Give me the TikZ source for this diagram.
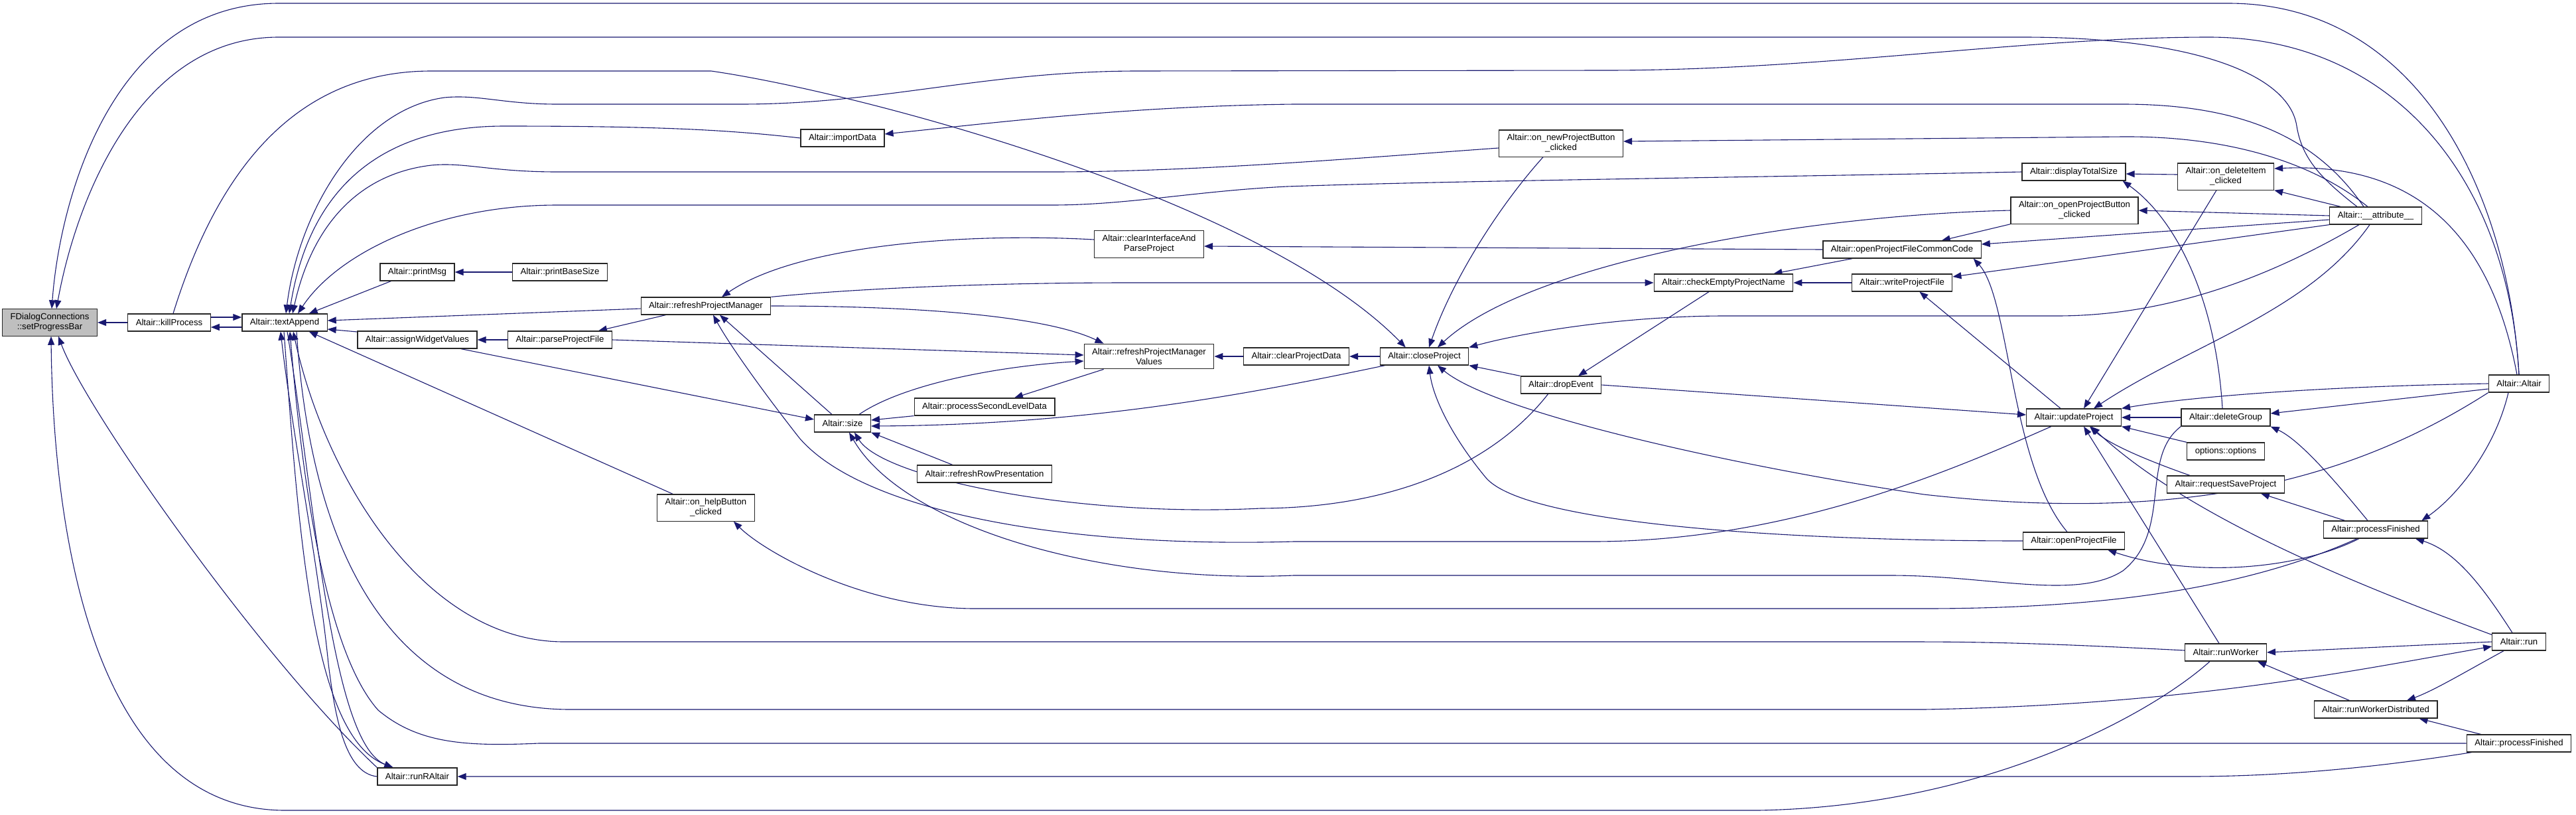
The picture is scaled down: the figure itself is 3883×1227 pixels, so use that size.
\documentclass[tikz,border=0pt]{standalone}
\usepackage{fontspec}
\setmainfont{Liberation Sans}
\usepackage{tikz}
\usetikzlibrary{arrows.meta,calc,backgrounds}
\definecolor{edgeblue}{HTML}{191970}
\tikzset{
  % Base styles
  graph base/.style={x=1pt, y=-1pt},
  % Function nodes
  fn/.style={rectangle, draw=black!85, line width=1.2pt, fill=white, align=center,
    font=\fontsize{13.2}{15}\selectfont, inner xsep=12pt, inner ysep=6.5pt, minimum height=26pt},
  fn root/.style={fn, fill=black!25},
  % Call edges
  call/.style={draw=edgeblue, line width=1.1pt, -{Triangle[length=13pt,width=10pt]}},
}

\begin{document}
\begin{tikzpicture}[graph base]
\useasboundingbox (0,0) rectangle (3883,1227);

% Left columns
\node[fn root] (spb) at (75,486) {FDialogConnections\\::setProgressBar};
\node[fn] (kill) at (255,486) {Altair::killProcess};
\node[fn] (txtapp) at (429,486) {Altair::textAppend};
\node[fn] (pmsg) at (629,410) {Altair::printMsg};
\node[fn] (pbsize) at (844,410) {Altair::printBaseSize};
\node[fn] (awv) at (629,512) {Altair::assignWidgetValues};
\node[fn] (ppf) at (844,512) {Altair::parseProjectFile};
\node[fn] (rra) at (629,1170) {Altair::runRAltair};
\node[fn] (rpm) at (1064,461) {Altair::refreshProjectManager};
\node[fn] (helpbtn) at (1064,765) {Altair::on\_helpButton\\\_clicked};
\node[fn] (impdata) at (1270,208) {Altair::importData};
\node[fn] (asize) at (1270,638) {Altair::size};
\node[fn] (psld) at (1484,613) {Altair::processSecondLevelData};
\node[fn] (rrp) at (1484,714) {Altair::refreshRowPresentation};
\node[fn] (cip) at (1732,368) {Altair::clearInterfaceAnd\\ParseProject};
\node[fn] (rpmv) at (1732,537) {Altair::refreshProjectManager\\Values};
\node[fn] (cpd) at (1954,537) {Altair::clearProjectData};

% Middle columns
\node[fn] (closep) at (2147,537) {Altair::closeProject};
\node[fn] (newbtn) at (2353,216) {Altair::on\_newProjectButton\\\_clicked};
\node[fn] (dropev) at (2353,580) {Altair::dropEvent};
\node[fn] (cepn) at (2598,426) {Altair::checkEmptyProjectName};
\node[fn] (opfcc) at (2867,376) {Altair::openProjectFileCommonCode};
\node[fn] (wpf) at (2867,426) {Altair::writeProjectFile};

% Right columns
\node[fn] (dts) at (3126,259) {Altair::displayTotalSize};
\node[fn] (openbtn) at (3127,317) {Altair::on\_openProjectButton\\\_clicked};
\node[fn] (updp) at (3126,629) {Altair::updateProject};
\node[fn] (opf) at (3126,815) {Altair::openProjectFile};
\node[fn] (delitem) at (3355,266) {Altair::on\_deleteItem\\\_clicked};
\node[fn] (delgrp) at (3355,629) {Altair::deleteGroup};
\node[fn] (opts) at (3355,680) {options::options};
\node[fn] (rsp) at (3355,730) {Altair::requestSaveProject};
\node[fn] (runw) at (3355,983) {Altair::runWorker};
\node[fn] (attr) at (3581,325) {Altair::\_\_attribute\_\_};
\node[fn] (pfin) at (3581,798) {Altair::processFinished};
\node[fn] (rwd) at (3581,1069) {Altair::runWorkerDistributed};
\node[fn] (altair) at (3797,578) {Altair::Altair};
\node[fn] (runn) at (3797,967) {Altair::run};
\node[fn] (pfin2) at (3797,1120) {Altair::processFinished};

\begin{scope}[on background layer]
% Into setProgressBar
\draw[call] (kill.west) -- (spb.east);
\draw[call] (altair.north) .. controls (3780,280) and (3640,5) .. (3359,5) -- (420,5) .. controls (170,5) and (90,300) .. ($(spb.north)+(3,0)$);
\draw[call] ($(attr.north)+(-28,0)$) .. controls (3500,270) and (3470,240) .. (3462,190) .. controls (3450,110) and (3300,56) .. (3050,56) -- (420,56) .. controls (210,56) and (115,300) .. ($(spb.north)+(10,0)$);
\draw[call] ($(runw.south)+(-24,0)$) .. controls (3250,1070) and (3000,1215) .. (2650,1221) -- (430,1221) .. controls (140,1221) and (80,800) .. ($(spb.south)+(2,0)$);
\draw[call] (rra.north west) .. controls (400,1000) and (130,620) .. ($(spb.south)+(13,0)$);

% Around textAppend
\draw[call] ($(kill.east)+(0,-8)$) -- ($(txtapp.west)+(0,-8)$);
\draw[call] ($(txtapp.west)+(0,7)$) -- ($(kill.east)+(0,7)$);
\draw[call] (pbsize) -- (pmsg);
\draw[call] ($(pmsg.south west)+(17,0)$) -- ($(txtapp.north east)+(-28,0)$);
\draw[call] (ppf) -- (awv);
\draw[call] ($(awv.west)+(0,-12)$) -- ($(txtapp.east)+(0,10)$);
\draw[call] ($(rpm.west)+(0,4)$) -- ($(txtapp.east)+(0,-3)$);
\draw[call] ($(helpbtn.north west)+(24,0)$) -- ($(txtapp.south east)+(-28,0)$);
\draw[call] (impdata.west) .. controls (1100,196) and (1000,190) .. (760,190) .. controls (600,190) and (470,260) .. ($(txtapp.north)+(7,0)$);
\draw[call] ($(newbtn.west)+(0,7)$) .. controls (2050,238) and (1800,259) .. (1585,259) -- (840,259) .. controls (740,259) and (700,244) .. (650,249) .. controls (540,262) and (470,340) .. ($(txtapp.north)+(12,0)$);
\draw[call] (dts.west) .. controls (2600,268) and (2200,272) .. (1940,281) .. controls (1800,288) and (1700,309) .. (1585,309) -- (840,309) .. controls (660,309) and (510,380) .. ($(txtapp.north)+(20,0)$);
\draw[call] (altair.north) .. controls (3780,260) and (3600,56) .. (3330,56) .. controls (3050,56) and (2750,106) .. (2420,106) -- (1710,107) .. controls (1480,108) and (1330,157) .. (1116,157) -- (840,157) .. controls (760,157) and (720,142) .. (670,147) .. controls (540,165) and (450,320) .. ($(txtapp.north)+(2,0)$);
\draw[call] ($(runw.west)+(0,-3)$) .. controls (3100,970) and (3000,967) .. (2880,967) -- (850,967) .. controls (640,967) and (490,720) .. ($(txtapp.south)+(13,0)$);
\draw[call] ($(txtapp.south)+(18,0)$) .. controls (470,850) and (600,1069) .. (860,1069) -- (2900,1069) .. controls (3300,1062) and (3550,1010) .. ($(runn.west)+(0,7)$);
\draw[call] (pfin2.west) -- (812,1120) .. controls (700,1125) and (630,1120) .. (570,1070) .. controls (490,980) and (455,720) .. ($(txtapp.south)+(8,0)$);
\draw[call] ($(pfin2.south west)+(8,0)$) .. controls (3560,1160) and (3420,1170) .. (3300,1170) -- (rra.east);
\draw[call] (rra.west) .. controls (520,1165) and (505,1080) .. (495,1000) .. controls (480,850) and (440,650) .. ($(txtapp.south)+(-6,0)$);
\draw[call] ($(txtapp.south)+(-1,0)$) .. controls (450,800) and (470,1110) .. ($(rra.north west)+(24,0)$);
\draw[call] ($(txtapp.south)+(4,0)$) .. controls (475,760) and (500,1120) .. ($(rra.north west)+(24,0)$);

% refreshProjectManager and size
\draw[call] ($(rpm.south west)+(38,0)$) -- ($(ppf.north east)+(-21,0)$);
\draw[call] (ppf.east) -- ($(rpmv.west)+(0,-2)$);
\draw[call] ($(awv.south east)+(-25,0)$) -- ($(asize.west)+(0,-6)$);
\draw[call] (rpm.east) .. controls (1400,461) and (1580,478) .. ($(rpmv.north west)+(30,0)$);
\draw[call] (rpm.north east) .. controls (1300,434) and (1500,426) .. (1700,426) -- (cepn.west);
\draw[call] ($(cip.west)+(0,-7)$) .. controls (1450,350) and (1200,370) .. ($(rpm.north)+(24,0)$);
\draw[call] ($(asize.north west)+(27,0)$) -- ($(rpm.south)+(21,0)$);
\draw[call] ($(updp.south west)+(38,0)$) .. controls (2950,705) and (2700,816) .. (2400,816) -- (1950,816) .. controls (1600,826) and (1300,770) .. (1205,660) .. controls (1150,590) and (1100,520) .. ($(rpm.south)+(11,0)$);
\draw[call] ($(asize.north east)+(-18,0)$) .. controls (1360,580) and (1500,552) .. ($(rpmv.west)+(0,7)$);
\draw[call] ($(rpmv.south west)+(30,0)$) -- ($(psld.north)+(45,0)$);
\draw[call] (psld.south west) -- ($(asize.east)+(0,-5)$);
\draw[call] ($(rrp.north west)+(54,0)$) -- (asize.south east);
\draw[call] ($(closep.south west)+(8,0)$) .. controls (1900,590) and (1650,640) .. ($(asize.east)+(0,4)$);
\draw[call] ($(dropev.south west)+(42,0)$) .. controls (2250,700) and (2100,765) .. (1900,766) .. controls (1620,780) and (1330,720) .. ($(asize.south)+(18,0)$);
\draw[call] (delgrp.south west) .. controls (3225,690) and (3275,800) .. (3200,860) .. controls (3130,905) and (3000,867) .. (2850,867) -- (1950,867) .. controls (1650,880) and (1360,790) .. ($(asize.south)+(10,0)$);
\draw[call] (cpd.west) -- (rpmv.east);

% closeProject
\draw[call] (closep.west) -- (cpd.east);
\draw[call] ($(kill.north)+(6,0)$) .. controls (330,250) and (450,107) .. (650,107) -- (1072,107) .. controls (1300,140) and (1900,300) .. ($(closep.north west)+(39,0)$);
\draw[call] ($(newbtn.south)+(-27,0)$) .. controls (2260,310) and (2190,420) .. ($(closep.north)+(7,0)$);
\draw[call] (openbtn.west) .. controls (2700,325) and (2300,400) .. ($(closep.north)+(20,0)$);
\draw[call] ($(attr.south)+(-25,0)$) .. controls (3400,430) and (3250,476) .. (3100,476) -- (2600,476) .. controls (2450,476) and (2300,500) .. (closep.north east);
\draw[call] (dropev.north west) -- (closep.south east);
\draw[call] (opf.west) .. controls (2700,815) and (2300,790) .. (2240,720) .. controls (2190,660) and (2160,600) .. ($(closep.south)+(7,0)$);
\draw[call] (altair.south west) .. controls (3550,720) and (3300,790) .. (2900,745) .. controls (2600,700) and (2250,620) .. ($(closep.south)+(20,0)$);

% checkEmptyProjectName and project files
\draw[call] ($(cepn.south)+(-22,0)$) -- ($(dropev.north)+(26,0)$);
\draw[call] (dropev.east) -- ($(updp.west)+(0,-4)$);
\draw[call] (opfcc.west) -- ($(cip.east)+(0,3)$);
\draw[call] ($(opfcc.south west)+(45,0)$) -- ($(cepn.north east)+(-30,0)$);
\draw[call] (wpf.west) -- (cepn.east);
\draw[call] (openbtn.south west) -- ($(opfcc.north east)+(-60,0)$);
\draw[call] ($(attr.west)+(0,6)$) -- ($(opfcc.east)+(0,-8)$);
\draw[call] (attr.south west) -- ($(wpf.east)+(0,-9)$);
\draw[call] (attr.west) -- (openbtn.east);
\draw[call] ($(updp.north)+(-20,0)$) -- ($(wpf.south east)+(-50,0)$);
\draw[call] ($(opf.north)+(-10,0)$) .. controls (3030,700) and (3030,450) .. ($(opfcc.south east)+(-12,0)$);
\draw[call] ($(attr.north)+(-18,0)$) .. controls (3500,220) and (3400,157) .. (3200,157) -- (1950,157) .. controls (1700,160) and (1500,185) .. ($(impdata.east)+(0,-6)$);
\draw[call] ($(attr.north)+(-12,0)$) .. controls (3480,240) and (3350,205) .. (3200,206) -- ($(newbtn.east)+(0,-3)$);

% deleteItem, updateProject
\draw[call] ($(attr.north west)+(17,0)$) -- (delitem.south east);
\draw[call] ($(altair.north)+(-3,0)$) .. controls (3750,330) and (3620,245) .. ($(delitem.east)+(0,-12)$);
\draw[call] ($(delitem.west)+(0,-3)$) -- ($(dts.east)+(0,3)$);
\draw[call] ($(delitem.south)+(-14,0)$) -- ($(updp.north)+(15,0)$);
\draw[call] ($(attr.south)+(-9,0)$) .. controls (3480,470) and (3300,520) .. ($(updp.north)+(30,0)$);
\draw[call] (altair.west) .. controls (3500,582) and (3300,598) .. (updp.north east);
\draw[call] ($(altair.west)+(0,8)$) -- ($(delgrp.east)+(0,-6)$);
\draw[call] (delgrp.west) -- (updp.east);
\draw[call] (opts.north west) -- (updp.south east);
\draw[call] ($(rsp.north west)+(35,0)$) .. controls (3240,695) and (3180,670) .. ($(updp.south)+(24,0)$);
\draw[call] ($(runw.north)+(-10,0)$) -- ($(updp.south)+(15,0)$);
\draw[call] ($(runn.north west)+(0,3)$) .. controls (3550,880) and (3300,780) .. ($(updp.south)+(26,0)$);
\draw[call] ($(delgrp.north)+(-5,0)$) .. controls (3340,450) and (3280,330) .. ($(dts.south east)+(-5,0)$);

% processFinished and run
\draw[call] ($(pfin.north)+(-12,0)$) .. controls (3500,700) and (3460,660) .. (delgrp.south east);
\draw[call] ($(pfin.north west)+(33,0)$) -- ($(rsp.south east)+(-36,0)$);
\draw[call] ($(altair.south)+(-16,0)$) .. controls (3760,680) and (3700,750) .. ($(pfin.north east)+(-10,0)$);
\draw[call] ($(runn.north)+(-10,0)$) .. controls (3740,880) and (3700,830) .. ($(pfin.south)+(60,0)$);
\draw[call] ($(pfin.south)+(-25,0)$) .. controls (3460,860) and (3300,870) .. ($(opf.south east)+(-26,0)$);
\draw[call] ($(pfin.south)+(-28,0)$) .. controls (3400,880) and (3200,917) .. (2900,917) -- (1470,917) .. controls (1300,917) and (1150,830) .. ($(helpbtn.south east)+(-32,0)$);
\draw[call] (runn.west) -- (runw.east);
\draw[call] ($(runn.south west)+(18,0)$) .. controls (3720,1010) and (3670,1040) .. ($(rwd.north)+(47,0)$);
\draw[call] ($(rwd.north west)+(54,0)$) -- ($(runw.south east)+(-14,0)$);
\draw[call] ($(pfin2.north west)+(22,0)$) -- ($(rwd.south east)+(-28,0)$);
\end{scope}
\end{tikzpicture}
\end{document}
